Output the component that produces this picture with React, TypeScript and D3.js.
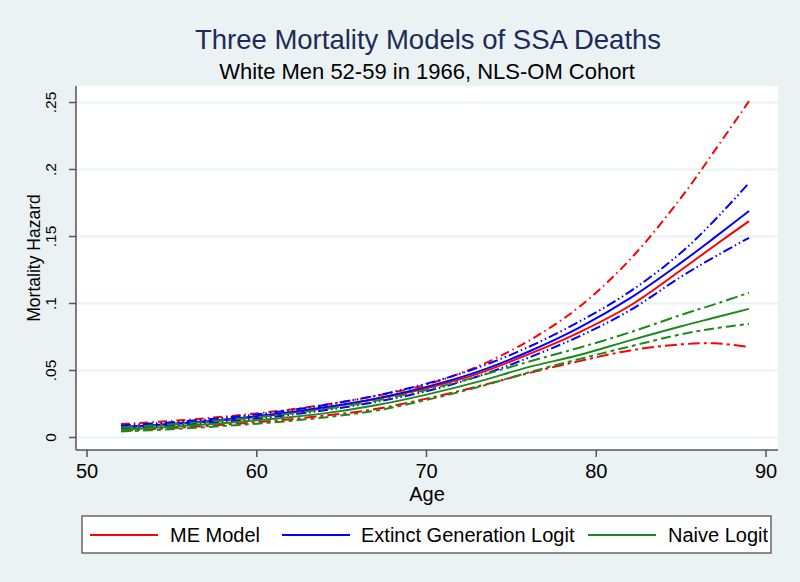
import React from "react";
import * as d3 from "d3";

// ---- data ----
const ages = [52, 55, 58, 61, 64, 67, 70, 73, 76, 79, 82, 85, 87, 89];

const meModel = [0.0075, 0.0098, 0.0128, 0.0168, 0.022, 0.0287, 0.0368, 0.0475, 0.062, 0.0785, 0.0985, 0.125, 0.1435, 0.1615];
const meUpper = [0.01, 0.0124, 0.0155, 0.0194, 0.0245, 0.031, 0.0395, 0.053, 0.072, 0.0975, 0.133, 0.179, 0.2145, 0.251];
const meLower = [0.005, 0.007, 0.0095, 0.0125, 0.0163, 0.0212, 0.029, 0.038, 0.048, 0.057, 0.065, 0.0695, 0.0703, 0.0675];

const egLogit = [0.0078, 0.0102, 0.0133, 0.0173, 0.0225, 0.029, 0.0378, 0.049, 0.064, 0.082, 0.104, 0.1305, 0.1495, 0.169];
const egUpper = [0.009, 0.0114, 0.0146, 0.0188, 0.0242, 0.0312, 0.0402, 0.052, 0.0675, 0.0865, 0.109, 0.138, 0.1625, 0.19];
const egLower = [0.0067, 0.009, 0.0118, 0.0155, 0.0203, 0.0265, 0.0345, 0.0455, 0.0595, 0.0755, 0.095, 0.12, 0.135, 0.149];

const naiveLogit = [0.0058, 0.008, 0.0107, 0.014, 0.018, 0.024, 0.032, 0.0415, 0.0525, 0.0615, 0.0725, 0.083, 0.0895, 0.096];
const naiveUpper = [0.0075, 0.0098, 0.0128, 0.0165, 0.0212, 0.0275, 0.0355, 0.0455, 0.0565, 0.067, 0.0785, 0.0915, 0.0995, 0.108];
const naiveLower = [0.0045, 0.0062, 0.0085, 0.0113, 0.015, 0.02, 0.028, 0.0375, 0.0485, 0.0585, 0.068, 0.077, 0.0815, 0.0847];

const xTicks = [50, 60, 70, 80, 90];
const yTicks = [0, 0.05, 0.1, 0.15, 0.2, 0.25];
const yTickLabels = ["0", ".05", ".1", ".15", ".2", ".25"];

const legendLabels = ["ME Model", "Extinct Generation Logit", "Naive Logit"];

const RED = "#ff0000";
const BLUE = "#0000ff";
const GREEN = "#1e8a1e";

const W = 800;
const H = 582;
const plot = { left: 76, right: 778, top: 86, bottom: 450 };

export default function App() {
  React.useEffect(() => {
    document.body.style.margin = "0";
  }, []);

  const x = d3.scaleLinear().domain([50, 90]).range([87, 766]);
  const y = d3.scaleLinear().domain([0, 0.25]).range([437.5, 102.5]);

  const line = d3
    .line<number>()
    .x((_, i) => x(ages[i]))
    .y((d) => y(d))
    .curve(d3.curveCatmullRom.alpha(0.5));

  const series = [
    { vals: meLower, color: RED, dash: "12,4,3,4", w: 2 },
    { vals: meUpper, color: RED, dash: "9,4,1.5,4", w: 2 },
    { vals: meModel, color: RED, dash: null, w: 2 },
    { vals: egUpper, color: BLUE, dash: "10,3,1.5,3,1.5,3", w: 2 },
    { vals: egLower, color: BLUE, dash: "10,3,1.5,3,1.5,3", w: 2 },
    { vals: egLogit, color: BLUE, dash: null, w: 2 },
    { vals: naiveUpper, color: GREEN, dash: "12,4,3,4", w: 2 },
    { vals: naiveLower, color: GREEN, dash: "10,4,4,4", w: 2 },
    { vals: naiveLogit, color: GREEN, dash: null, w: 2 },
  ];

  const font = "'Liberation Sans', Arial, sans-serif";
  const axisColor = "#555";

  const legendItems = [
    { label: legendLabels[0], color: RED, lx: 90, tx: 170 },
    { label: legendLabels[1], color: BLUE, lx: 282, tx: 361 },
    { label: legendLabels[2], color: GREEN, lx: 588, tx: 668 },
  ];

  return (
    <svg width={W} height={H} style={{ display: "block" }} fontFamily={font}>
      <rect x={0} y={0} width={W} height={H} fill="#eaf2f3" />
      <rect x={plot.left} y={plot.top} width={plot.right - plot.left} height={plot.bottom - plot.top} fill="#ffffff" />
      {/* gridlines */}
      {yTicks.map((t) => (
        <line key={"g" + t} x1={plot.left} x2={plot.right} y1={y(t)} y2={y(t)} stroke="#eaf2f3" strokeWidth={2} />
      ))}
      {/* titles */}
      <text x={428} y={49} textAnchor="middle" fontSize={27.5} fill="#1c2b5a">
        Three Mortality Models of SSA Deaths
      </text>
      <text x={427} y={79} textAnchor="middle" fontSize={22} fill="#000">
        White Men 52-59 in 1966, NLS-OM Cohort
      </text>
      {/* curves */}
      {series.map((s, i) => (
        <path
          key={i}
          d={line(s.vals) || ""}
          fill="none"
          stroke={s.color}
          strokeWidth={s.w}
          strokeDasharray={s.dash || undefined}
        />
      ))}
      {/* axes */}
      <line x1={plot.left} x2={plot.left} y1={plot.top} y2={plot.bottom} stroke={axisColor} strokeWidth={1.5} />
      <line x1={plot.left} x2={plot.right} y1={plot.bottom} y2={plot.bottom} stroke={axisColor} strokeWidth={1.5} />
      {yTicks.map((t, i) => (
        <g key={"yt" + t}>
          <line x1={plot.left - 7} x2={plot.left} y1={y(t)} y2={y(t)} stroke={axisColor} strokeWidth={1.5} />
          <text
            transform={`translate(56,${y(t)}) rotate(-90)`}
            textAnchor="middle"
            fontSize={15.5}
            fill="#000"
          >
            {yTickLabels[i]}
          </text>
        </g>
      ))}
      {xTicks.map((t) => (
        <g key={"xt" + t}>
          <line x1={x(t)} x2={x(t)} y1={plot.bottom} y2={plot.bottom + 7} stroke={axisColor} strokeWidth={1.5} />
          <text x={x(t)} y={478} textAnchor="middle" fontSize={20} fill="#000">
            {t}
          </text>
        </g>
      ))}
      <text x={427} y={501} textAnchor="middle" fontSize={20} fill="#000">
        Age
      </text>
      <text transform="translate(40,258) rotate(-90)" textAnchor="middle" fontSize={17.5} fill="#000">
        Mortality Hazard
      </text>
      {/* legend */}
      <rect x={82} y={516} width={689} height={37} fill="#ffffff" stroke="#444" strokeWidth={1.2} />
      {legendItems.map((it) => (
        <g key={it.label}>
          <line x1={it.lx} x2={it.lx + 68} y1={535} y2={535} stroke={it.color} strokeWidth={2} />
          <text x={it.tx} y={542} fontSize={20} fill="#000">
            {it.label}
          </text>
        </g>
      ))}
    </svg>
  );
}
